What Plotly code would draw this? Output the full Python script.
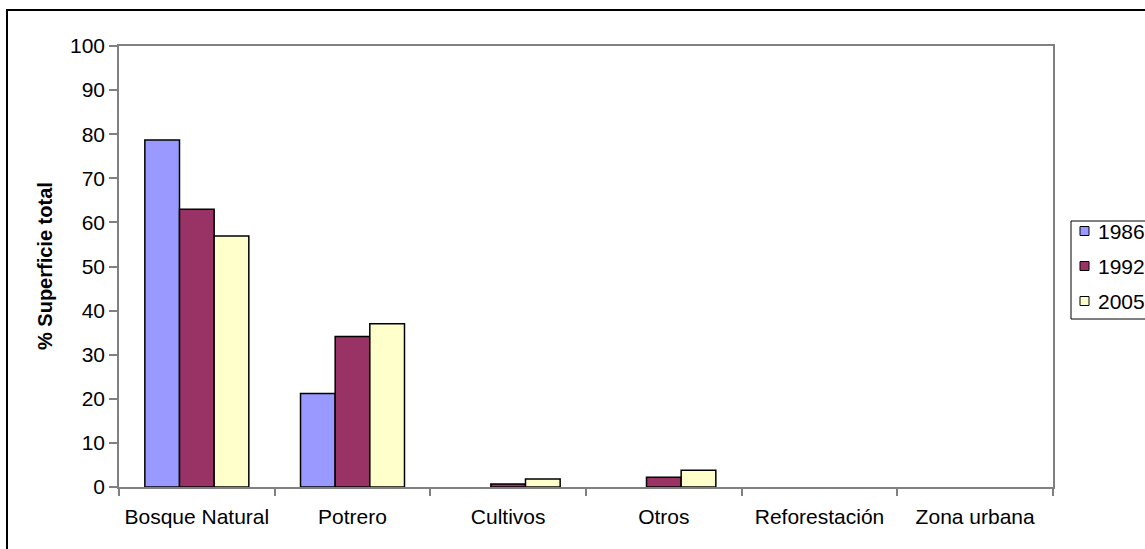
import plotly.graph_objects as go

# Land-cover share per category and year
categorias = ["Bosque Natural", "Potrero", "Cultivos", "Otros", "Reforestación", "Zona urbana"]
anios = ["1986", "1992", "2005"]
valores_1986 = [78.7, 21.2, 0, 0, 0, 0]
valores_1992 = [63.0, 34.1, 0.7, 2.2, 0, 0]
valores_2005 = [56.9, 37.0, 1.8, 3.8, 0, 0]
colores = ["#9999FF", "#993366", "#FFFFCC"]
y_ticks = list(range(0, 101, 10))

series = [valores_1986, valores_1992, valores_2005]

FONT = "Liberation Sans, Arial, sans-serif"
FS = 21
W, H = 1145, 549
ML, MR, MT, MB = 119, 92, 46, 62
PW, PH = W - ML - MR, H - MT - MB


def px_to_paper_x(px):
    return (px - ML) / PW


def px_to_paper_y(py):
    return (H - MB - py) / PH


fig = go.Figure()
for anio, vals, col in zip(anios, series, colores):
    # empty categories get no outline, so nothing is drawn on the axis
    widths = [1.5 if v > 0 else 0 for v in vals]
    fig.add_trace(go.Bar(
        x=categorias, y=vals, name=anio, showlegend=False,
        marker=dict(color=col, line=dict(color="black", width=widths)),
    ))

shapes = [
    # outer chart frame
    dict(type="rect", xref="paper", yref="paper",
         x0=px_to_paper_x(7), y0=px_to_paper_y(560),
         x1=px_to_paper_x(1160), y1=px_to_paper_y(10),
         line=dict(color="black", width=2), fillcolor="rgba(0,0,0,0)",
         layer="below"),
    # legend box
    dict(type="rect", xref="paper", yref="paper",
         x0=px_to_paper_x(1071), y0=px_to_paper_y(319),
         x1=px_to_paper_x(1160), y1=px_to_paper_y(221),
         line=dict(color="black", width=1), fillcolor="white"),
]
annotations = [dict(
    text="<b>% Superficie total</b>", textangle=-90,
    xref="paper", yref="paper",
    x=px_to_paper_x(45), y=px_to_paper_y(266),
    xanchor="center", yanchor="middle", showarrow=False,
    font=dict(size=20, family=FONT),
)]

# legend entries
leg_y = [231, 266, 301]
for anio, col, cy in zip(anios, colores, leg_y):
    shapes.append(dict(
        type="rect", xref="paper", yref="paper",
        x0=px_to_paper_x(1080), x1=px_to_paper_x(1089),
        y0=px_to_paper_y(cy + 4.5), y1=px_to_paper_y(cy - 4.5),
        line=dict(color="black", width=1), fillcolor=col,
    ))
    annotations.append(dict(
        text=anio, xref="paper", yref="paper",
        x=px_to_paper_x(1096), y=px_to_paper_y(cy),
        xanchor="left", yanchor="middle", showarrow=False,
        font=dict(size=FS, family=FONT),
    ))

fig.update_layout(
    width=W, height=H,
    margin=dict(l=ML, r=MR, t=MT, b=MB, autoexpand=False),
    paper_bgcolor="white", plot_bgcolor="white",
    barmode="group", bargap=0.332, bargroupgap=0,
    font=dict(family=FONT, size=FS, color="black"),
    showlegend=False,
    xaxis=dict(
        type="category", tickson="boundaries",
        showline=True, linecolor="#808080", linewidth=1.5, mirror=True,
        ticks="outside", ticklen=7, tickcolor="#808080", tickwidth=1.5,
        ticklabelstandoff=10, showgrid=False, zeroline=False,
        tickfont=dict(size=FS), automargin=False,
    ),
    yaxis=dict(
        range=[0, 100], tickvals=y_ticks,
        showline=True, linecolor="#808080", linewidth=1.5, mirror=True,
        ticks="outside", ticklen=8, tickcolor="#808080", tickwidth=1.5,
        showgrid=False, zeroline=False, tickfont=dict(size=FS),
        automargin=False,
    ),
    annotations=annotations,
    shapes=shapes,
)

fig.write_html("out.html")
